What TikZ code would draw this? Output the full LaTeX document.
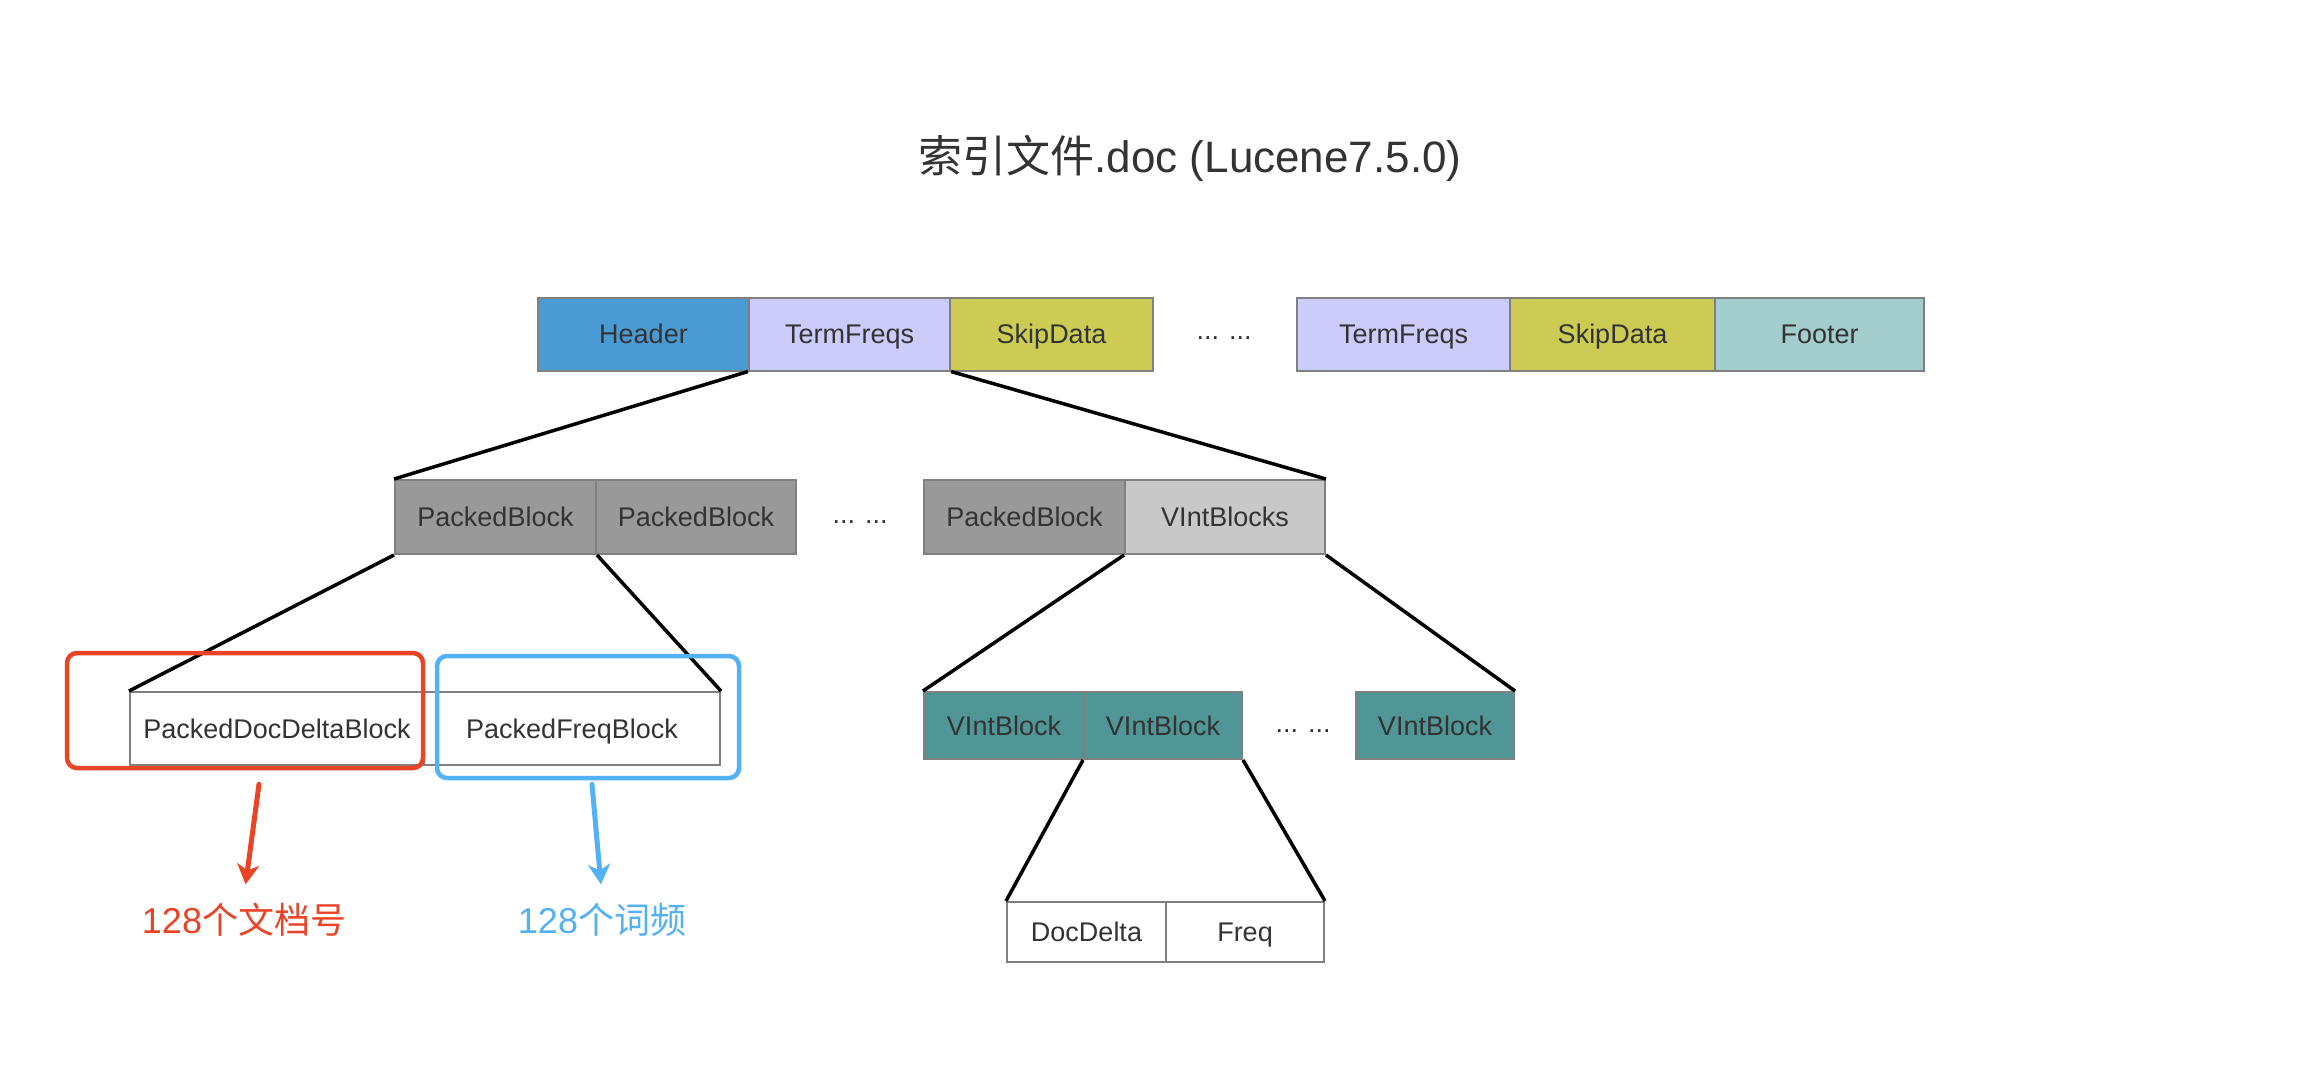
\documentclass[tikz,border=0pt]{standalone}
\usepackage{fontspec}
\setmainfont{Liberation Sans}
\newfontfamily\cjk{Noto Sans CJK SC}
\usetikzlibrary{arrows.meta}

\definecolor{headerblue}{HTML}{4A9BD4}
\definecolor{termpurple}{HTML}{CCCCFA}
\definecolor{skipyellow}{HTML}{CCCC55}
\definecolor{footercyan}{HTML}{A3CCCC}
\definecolor{packedgray}{HTML}{999999}
\definecolor{vintlight}{HTML}{C8C8C8}
\definecolor{vintteal}{HTML}{509696}
\definecolor{cellgray}{HTML}{808080}
\definecolor{textgray}{HTML}{333333}
\definecolor{markred}{HTML}{EA4325}
\definecolor{markblue}{HTML}{53B1F5}

\begin{document}
\begin{tikzpicture}
  [
    x = 0.5pt, y = -0.5pt,
    cell/.style = {draw = cellgray, line width = 1pt, text = textgray,
        font = \fontsize{13.5}{16}\selectfont, inner sep = 0pt,
        text height = 9.7pt, text depth = 0pt},
    row/.style = {cell, minimum height = #1},
    dots/.style = {text = textgray, font = \fontsize{13.5}{16}\selectfont},
    link/.style = {black, line width = 1.75pt},
    mark/.style = {draw = #1, line width = 2.25pt, rounded corners = 5pt, inner sep = 0pt},
    note/.style = {text = #1, font = \fontsize{18}{22}\selectfont},
    pointer/.style = {draw = #1, line width = 2.5pt, line cap = round,
        -{Stealth[length = 10pt, width = 11pt, inset = 3pt]}},
  ]

  \fill[white] (0,0) rectangle (2302,1078);
  \useasboundingbox (0,0) rectangle (2302,1078);

  \node (title) at (1190,158) [text = textgray, font = \fontsize{22}{26}\selectfont]
    {{\cjk 索引文件}.doc (Lucene7.5.0)};

  % top row
  \node (header) at (643.5,334) [row = 36.5pt, minimum width = 105.5pt, fill = headerblue] {Header};
  \node (tf1) at (849.5,334) [row = 36.5pt, minimum width = 100.5pt, fill = termpurple] {TermFreqs};
  \node (sd1) at (1051.5,334) [row = 36.5pt, minimum width = 101.5pt, fill = skipyellow] {SkipData};
  \node (dots1) at (1224,338) [dots] {... ...};
  \node (tf2) at (1403.5,334) [row = 36.5pt, minimum width = 106.5pt, fill = termpurple] {TermFreqs};
  \node (sd2) at (1612.5,334) [row = 36.5pt, minimum width = 102.5pt, fill = skipyellow] {SkipData};
  \node (footer) at (1819.5,334) [row = 36.5pt, minimum width = 104.5pt, fill = footercyan] {Footer};

  % blocks
  \node (pb1) at (495.5,517) [row = 37pt, minimum width = 100.5pt, fill = packedgray] {PackedBlock};
  \node (pb2) at (696,517) [row = 37pt, minimum width = 100pt, fill = packedgray] {PackedBlock};
  \node (dots2) at (860,522) [dots] {... ...};
  \node (pb3) at (1024.5,517) [row = 37pt, minimum width = 100.5pt, fill = packedgray] {PackedBlock};
  \node (vbs) at (1225,517) [row = 37pt, minimum width = 100pt, fill = vintlight] {VIntBlocks};

  % packed block content
  \node (pdd) at (277,728.5) [row = 36.5pt, minimum width = 147pt, fill = white] {PackedDocDeltaBlock};
  \node (pfb) at (572,728.5) [row = 36.5pt, minimum width = 148pt, fill = white] {PackedFreqBlock};

  % vint blocks
  \node (vb1) at (1004,725.5) [row = 33.5pt, minimum width = 80pt, fill = vintteal] {VIntBlock};
  \node (vb2) at (1163,725.5) [row = 33.5pt, minimum width = 79pt, fill = vintteal] {VIntBlock};
  \node (dots3) at (1303,731) [dots] {... ...};
  \node (vb3) at (1435,725.5) [row = 33.5pt, minimum width = 79pt, fill = vintteal] {VIntBlock};

  \node (dd) at (1086.5,932) [row = 30pt, minimum width = 79.5pt, fill = white] {DocDelta};
  \node (freq) at (1245,932) [row = 30pt, minimum width = 79pt, fill = white] {Freq};

  \foreach \a/\b in {tf1.south west/pb1.north west, tf1.south east/vbs.north east,
      pb1.south west/pdd.north west, pb1.south east/pfb.north east,
      vbs.south west/vb1.north west, vbs.south east/vb3.north east,
      vb2.south west/dd.north west, vb2.south east/freq.north east}{
      \draw[link] (\a) -- (\b);
    }

  % marks
  \node (redbox) at (245,710.5) [mark = markred, minimum width = 178pt, minimum height = 57.5pt] {};
  \node (bluebox) at (588,717) [mark = markblue, minimum width = 151pt, minimum height = 61pt] {};

  \node (redlabel) at (244,920) [note = markred] {128{\cjk 个文档号}};
  \node (bluelabel) at (602,920) [note = markblue] {128{\cjk 个词频}};

  \draw[pointer = markred, shorten > = 6pt] ([shift = {(14,14)}]redbox.south) -- (redlabel.north);
  \draw[pointer = markblue, shorten > = 6pt] ([shift = {(4,4)}]bluebox.south) -- (bluelabel.north);

\end{tikzpicture}
\end{document}
